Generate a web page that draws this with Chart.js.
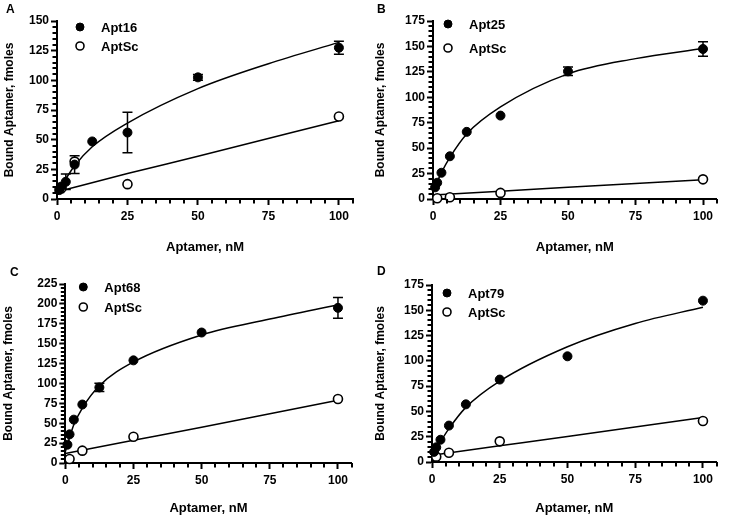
<!DOCTYPE html>
<html>
<head>
<meta charset="utf-8">
<script src="https://cdn.jsdelivr.net/npm/chart.js@4.4.1/dist/chart.umd.min.js"></script>
<style>
  body { margin: 0; background: #fff; }
  #wrap { position: relative; width: 730px; height: 520px; background: #fff; }
  .panel { position: absolute; width: 365px; height: 260px; }
  .panel canvas { position: absolute; left: 0; top: 0; }
  .letter { position: absolute; font: bold 12px Arial, "Liberation Sans", sans-serif; line-height: 1; color: #000; }
</style>
</head>
<body>
<div id="wrap">
  <div class="panel" style="left:0;top:0"><canvas id="chartA" width="365" height="260"></canvas><div class="letter" style="left:6px;top:3px">A</div></div>
  <div class="panel" style="left:365px;top:0"><canvas id="chartB" width="365" height="260"></canvas><div class="letter" style="left:12px;top:3px">B</div></div>
  <div class="panel" style="left:0;top:260px"><canvas id="chartC" width="365" height="260"></canvas><div class="letter" style="left:10px;top:6px">C</div></div>
  <div class="panel" style="left:365px;top:260px"><canvas id="chartD" width="365" height="260"></canvas><div class="letter" style="left:12px;top:5px">D</div></div>
</div>
<script>
// aptamer concentrations (nM)
const conc = [0.78, 1.56, 3.125, 6.25, 12.5, 25, 50, 100];
const scConc = [1.56, 6.25, 25, 100];
const fitX = [0, 1.56, 3.125, 6.25, 12.5, 25, 50, 75, 100];
const scFitX = [0, 25, 50, 100];
const xTicks = [0, 25, 50, 75, 100];

// panel A
const apt16 = [7.5, 10.5, 14.5, 29, 48.5, 56, 102.5, 127.5];
const apt16Err = [2, 2.5, 6.5, 7.5, 0, 17, 2.5, 5.5];
const scA = [9, 31.5, 12.5, 69.5];
const apt16Fit = [5, 11, 17, 28, 44, 64, 93, 114, 132];
const scAFit = [6, 21.5, 36, 66];

// panel B
const apt25 = [11.5, 16, 25.8, 42, 66, 82, 125.5, 147.5];
const apt25Err = [0, 0, 0, 0, 0, 0, 4.2, 7.2];
const scB = [0.8, 1.7, 6, 19.3];
const apt25Fit = [8, 17, 26, 41, 64, 90.5, 123, 138, 148];
const scBFit = [4, 7.7, 11.5, 19];

// panel C
const apt68 = [23, 36, 54.5, 73.5, 95, 129, 164, 195];
const apt68Err = [0, 0, 0, 0, 5.2, 0, 0, 13];
const scC = [5, 15.5, 33, 80.5];
const apt68Fit = [14, 32, 48, 69, 97, 127, 161, 181, 199];
const scCFit = [12, 28.5, 45, 79];

// panel D
const apt79 = [10, 14.5, 22, 36, 57, 81.5, 104.5, 159.5];
const apt79Err = [0, 0, 0, 0, 0, 0, 0, 0];
const scD = [5.3, 9.2, 20.4, 40.5];
const apt79Fit = [6, 13, 20, 33, 54, 80, 114, 137, 153];
const scDFit = [6.7, 16, 25.3, 44];

const yMax = { A: 150, B: 175, C: 225, D: 175 };

const FONT = 'Arial, "Liberation Sans", sans-serif';

function pts(xs, ys) {
  return xs.map((x, i) => ({ x: x, y: ys[i] }));
}

// vertical error bars with caps
const errorBars = {
  id: 'errorBars',
  beforeDatasetsDraw(chart) {
    const { ctx, scales: { x, y } } = chart;
    ctx.save();
    ctx.strokeStyle = '#000';
    ctx.lineWidth = 1.5;
    chart.data.datasets.forEach(ds => {
      if (!ds.errors) return;
      ds.data.forEach((p, i) => {
        const e = ds.errors[i];
        if (!e) return;
        const px = x.getPixelForValue(p.x);
        const top = y.getPixelForValue(p.y + e);
        const bot = y.getPixelForValue(p.y - e);
        ctx.beginPath();
        ctx.moveTo(px, top); ctx.lineTo(px, bot);
        ctx.moveTo(px - 5, top); ctx.lineTo(px + 5, top);
        ctx.moveTo(px - 5, bot); ctx.lineTo(px + 5, bot);
        ctx.stroke();
      });
    });
    ctx.restore();
  }
};

// short ticks every 5 units between the labelled ones
const minorTicks = {
  id: 'minorTicks',
  afterDraw(chart) {
    const { ctx, chartArea } = chart;
    const x = chart.scales.x;
    const y = chart.scales.y;
    ctx.save();
    ctx.strokeStyle = '#000';
    ctx.lineWidth = 2;
    ctx.beginPath();
    for (let v = 5; v <= 105; v += 5) {
      if (v % 25 === 0) continue;
      const px = Math.round(x.getPixelForValue(v));
      ctx.moveTo(px, chartArea.bottom);
      ctx.lineTo(px, chartArea.bottom + 4.5);
    }
    for (let v = 5; v < y.max; v += 5) {
      if (v % 25 === 0) continue;
      const py = Math.round(y.getPixelForValue(v));
      ctx.moveTo(chartArea.left - 4.5, py);
      ctx.lineTo(chartArea.left, py);
    }
    ctx.stroke();
    ctx.restore();
  }
};

// legend drawn inside the plot, top-left
const insetLegend = {
  id: 'insetLegend',
  afterDraw(chart, args, opts) {
    const { ctx, chartArea } = chart;
    ctx.save();
    ctx.font = 'bold 13px ' + FONT;
    ctx.textBaseline = 'middle';
    ctx.textAlign = 'left';
    [0, 1].forEach(i => {
      const ds = chart.data.datasets[i];
      const cx = chartArea.left + opts.dx;
      const cy = chartArea.top + opts.dy + i * opts.gap;
      ctx.fillStyle = ds.backgroundColor;
      ctx.strokeStyle = ds.borderColor;
      ctx.lineWidth = ds.borderWidth;
      Chart.helpers.drawPoint(ctx, { pointStyle: 'circle', radius: 4, borderWidth: ds.borderWidth }, cx, cy);
      ctx.fillStyle = '#000';
      ctx.fillText(ds.label, cx + 21, cy + 1);
    });
    ctx.restore();
  }
};

function makePanel(id, cfg) {
  const datasets = [
    {
      label: cfg.name,
      data: pts(conc, cfg.values),
      errors: cfg.errors,
      backgroundColor: '#000',
      borderColor: '#000',
      borderWidth: 1,
      pointRadius: 4.5,
      clip: false
    },
    {
      label: 'AptSc',
      data: pts(scConc, cfg.sc),
      backgroundColor: '#fff',
      borderColor: '#000',
      borderWidth: 1.6,
      pointRadius: 4.5,
      clip: false
    },
    {
      label: cfg.name + ' fit',
      data: pts(fitX, cfg.fit),
      showLine: true,
      borderColor: '#000',
      borderWidth: 1.5,
      pointRadius: 0,
      cubicInterpolationMode: 'monotone'
    },
    {
      label: 'AptSc fit',
      data: pts(scFitX, cfg.scFit),
      showLine: true,
      borderColor: '#000',
      borderWidth: 1.5,
      pointRadius: 0,
      cubicInterpolationMode: 'monotone'
    }
  ];

  new Chart(document.getElementById(id), {
    type: 'scatter',
    data: { datasets: datasets },
    options: {
      responsive: false,
      animation: false,
      devicePixelRatio: 1,
      layout: { padding: cfg.pad },
      plugins: {
        legend: { display: false },
        tooltip: { enabled: false },
        insetLegend: cfg.legend
      },
      scales: {
        x: {
          type: 'linear',
          min: 0,
          max: 105,
          afterBuildTicks: s => { s.ticks = xTicks.map(v => ({ value: v })); },
          border: { color: '#000', width: 2 },
          grid: { drawOnChartArea: false, color: '#000', tickLength: 6, tickWidth: 2 },
          ticks: { color: '#000', padding: 4, maxRotation: 0, font: { family: FONT, size: 12, weight: 'bold' } },
          title: { display: true, text: 'Aptamer, nM', color: '#000', padding: 0, font: { family: FONT, size: 13, weight: 'bold' } },
          afterFit: s => { s.height = cfg.xHeight; }
        },
        y: {
          min: 0,
          max: cfg.yMax,
          border: { color: '#000', width: 2 },
          grid: { drawOnChartArea: false, color: '#000', tickLength: 6, tickWidth: 2 },
          ticks: { stepSize: 25, color: '#000', padding: 2, font: { family: FONT, size: 12, weight: 'bold' } },
          title: { display: true, text: 'Bound Aptamer, fmoles', color: '#000', padding: 0, font: { family: FONT, size: 12, weight: 'bold' } },
          afterFit: s => { s.width = cfg.yWidth; }
        }
      }
    },
    plugins: [errorBars, minorTicks, insetLegend]
  });
}

makePanel('chartA', {
  name: 'Apt16', values: apt16, errors: apt16Err, sc: scA, fit: apt16Fit, scFit: scAFit, yMax: yMax.A,
  pad: { left: 2.3, top: 21, right: 12, bottom: 5 }, yWidth: 54.7, xHeight: 56,
  legend: { dx: 23, dy: 6, gap: 19 }
});
makePanel('chartB', {
  name: 'Apt25', values: apt25, errors: apt25Err, sc: scB, fit: apt25Fit, scFit: scBFit, yMax: yMax.B,
  pad: { left: 8, top: 21, right: 13.5, bottom: 5 }, yWidth: 60, xHeight: 56,
  legend: { dx: 15, dy: 3, gap: 24 }
});
makePanel('chartC', {
  name: 'Apt68', values: apt68, errors: apt68Err, sc: scC, fit: apt68Fit, scFit: scCFit, yMax: yMax.C,
  pad: { left: 1.3, top: 24, right: 13.4, bottom: 4 }, yWidth: 64, xHeight: 53,
  legend: { dx: 18, dy: 3, gap: 20 }
});
makePanel('chartD', {
  name: 'Apt79', values: apt79, errors: apt79Err, sc: scD, fit: apt79Fit, scFit: scDFit, yMax: yMax.D,
  pad: { left: 8, top: 25, right: 13.5, bottom: 4 }, yWidth: 59, xHeight: 54,
  legend: { dx: 15, dy: 8, gap: 19 }
});
</script>
</body>
</html>
